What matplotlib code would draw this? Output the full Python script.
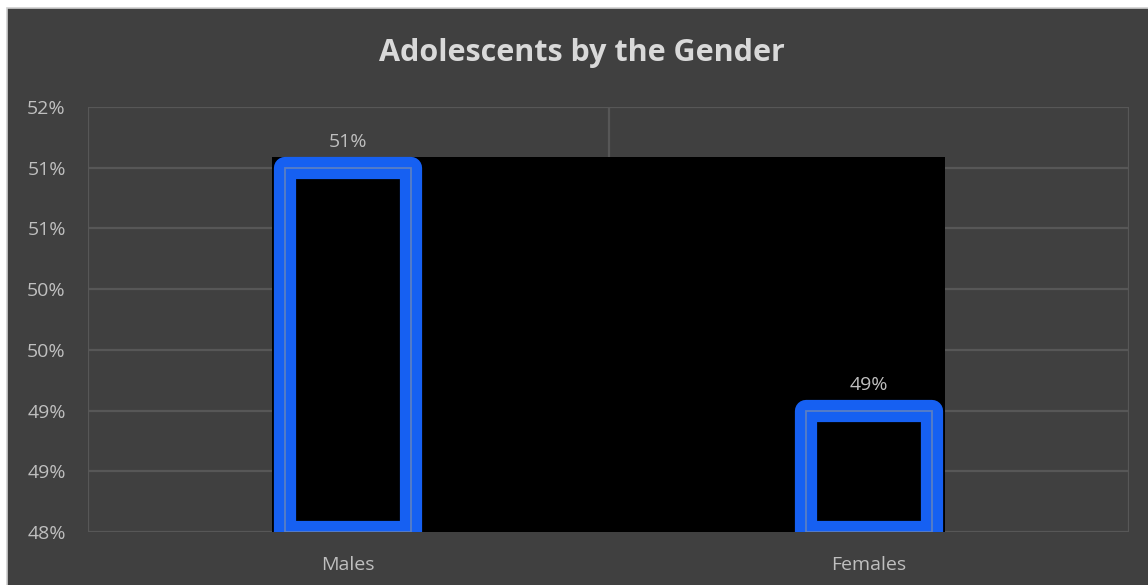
import matplotlib
matplotlib.use("Agg")
import matplotlib.pyplot as plt
from matplotlib.patches import Rectangle
import numpy as np

categories = ["Males", "Females"]
values = [51.0, 49.0]
value_labels = ["51%", "49%"]
yticks = [48.0, 48.5, 49.0, 49.5, 50.0, 50.5, 51.0, 51.5]
ytick_labels = ["48%", "49%", "49%", "50%", "50%", "51%", "51%", "52%"]

W, H = 1148, 585
fig = plt.figure(figsize=(W / 100, H / 100), dpi=100)
fig.patch.set_facecolor("white")
bg = "#404040"
fig.patches.append(Rectangle((7 / W, -0.05), 1.1, 1.05 - 8 / H, transform=fig.transFigure,
                             facecolor=bg, edgecolor="#d0d0d0", linewidth=1.2, zorder=-10))

ax = fig.add_axes([88 / W, 1 - 532 / H, (1129 - 88) / W, (532 - 107) / H])
ax.set_facecolor("none")
ax.set_xlim(-0.5, 1.5)
ax.set_ylim(48.0, 51.5)
for s in ax.spines.values():
    s.set_visible(False)

grid_c = "#575757"
for y in yticks:
    ax.axhline(y, color=grid_c, lw=1.6, zorder=1)
for x in [-0.5, 0.5, 1.5]:
    ax.axvline(x, color=grid_c, lw=1.6, zorder=1)

x = np.arange(len(categories))
bw = 0.242
# black backdrop behind bars
pad_x = 0.026
pad_y = 0.092
ax.add_patch(Rectangle((x[0] - bw / 2 - pad_x, 48.0), (x[-1] - x[0]) + bw + 2 * pad_x,
                       max(values) + pad_y - 48.0, facecolor="black", edgecolor="none", zorder=2))

bars = ax.bar(x, np.array(values) - 48.0, bottom=48.0, width=bw, facecolor="black",
              edgecolor="#1660f2", linewidth=16, joinstyle="round", zorder=3)
ax.bar(x, np.array(values) - 48.0, bottom=48.0, width=bw, facecolor="none",
       edgecolor="#5a7fc4", linewidth=1.3, zorder=4)

txt_c = "#bfbfbf"
font = "Open Sans"
for xi, v, lab in zip(x, values, value_labels):
    ax.text(xi, v + 0.21, lab, ha="center", va="center", color=txt_c, fontsize=14, family=font, zorder=5)

ax.set_xticks(x)
ax.set_xticklabels(categories, color=txt_c, fontsize=14, family=font)
ax.set_yticks(yticks)
ax.set_yticklabels(ytick_labels, color=txt_c, fontsize=14, family=font)
ax.tick_params(length=0)
ax.tick_params(axis="x", pad=17)
ax.tick_params(axis="y", pad=16)

fig.text(582 / W, 1 - 53 / H, "Adolescents by the Gender", ha="center", va="center",
         color="#d9d9d9", fontsize=22, fontweight="bold", family=font)

fig.savefig("out.png", dpi=100, facecolor=fig.get_facecolor())
